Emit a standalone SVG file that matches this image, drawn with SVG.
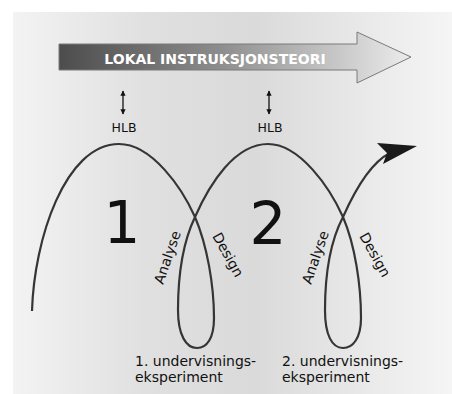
<svg xmlns="http://www.w3.org/2000/svg" width="452" height="394" viewBox="0 0 452 394">
<defs>
<linearGradient id="bg" x1="0" y1="0" x2="1" y2="0">
<stop offset="0" stop-color="#f3f3f3"/>
<stop offset="0.3" stop-color="#e0e0e0"/>
<stop offset="0.55" stop-color="#dadada"/>
<stop offset="1" stop-color="#f5f5f5"/>
</linearGradient>
<linearGradient id="band" gradientUnits="userSpaceOnUse" x1="59" y1="0" x2="411" y2="0">
<stop offset="0" stop-color="#4c4c4c"/>
<stop offset="0.45" stop-color="#8c8c8c"/>
<stop offset="1" stop-color="#ececec"/>
</linearGradient>
<marker id="ah" viewBox="0 0 10 10" refX="9" refY="5" markerWidth="4" markerHeight="4" orient="auto-start-reverse">
<path d="M0,0 L10,5 L0,10 Z" fill="#111"/>
</marker>
</defs>
<style>
.t{font-family:"DejaVu Sans","Liberation Sans",sans-serif;fill:#111}
.curve{fill:none;stroke:#353535;stroke-width:2.2;stroke-linejoin:round}
.hlb{stroke:#111;stroke-width:1.3}
</style>
<rect x="13" y="12" width="439" height="382" fill="url(#bg)"/>
<g id="banner">
<path d="M59,44 H357 V32 L411,57 L357,83 V70 H59 Z" fill="url(#band)" stroke="#7a7a7a" stroke-width="1"/>
<text class="t" x="215" y="63.5" text-anchor="middle" font-size="14" font-weight="bold" style="fill:#fff">LOKAL INSTRUKSJONSTEORI</text>
</g>
<g id="hlb1">
<line class="hlb" x1="123" y1="91" x2="123" y2="114" marker-start="url(#ah)" marker-end="url(#ah)"/>
<text class="t" x="124" y="132" text-anchor="middle" font-size="12.5">HLB</text>
</g>
<g id="hlb2">
<line class="hlb" x1="269" y1="91" x2="269" y2="114" marker-start="url(#ah)" marker-end="url(#ah)"/>
<text class="t" x="270" y="132" text-anchor="middle" font-size="12.5">HLB</text>
</g>
<g id="connectors">
<path class="curve" d="M32,311 C34,240 65,144 119,144 C152,144 182,188 195,217 C207,245 214,285 214,318 C214,338 207,348 197,348 C186,348 178,335 178,310 C178,272 184,240 195,217 C210,183 235,144 268,144 C300,144 330,188 343,217 C355,245 361,285 361,318 C361,338 353,348 343,348 C332,348 325,335 325,310 C325,272 331,240 343,217 C355,190 370,163 390,153"/>
<path d="M417,146 L377,143 L387,153 L383,164 Z" fill="#1a1a1a"/>
</g>
<g id="cycle1">
<text class="t" x="122" y="243" text-anchor="middle" font-size="58">1</text>
<text class="t" font-size="14" transform="translate(163,285) rotate(-71)">Analyse</text>
<text class="t" font-size="14" transform="translate(212,236) rotate(61)">Design</text>
<text class="t" x="135" y="366" font-size="14">1. undervisnings-</text>
<text class="t" x="135" y="382" font-size="14">eksperiment</text>
</g>
<g id="cycle2">
<text class="t" x="268" y="244" text-anchor="middle" font-size="58">2</text>
<text class="t" font-size="14" transform="translate(311,285) rotate(-71)">Analyse</text>
<text class="t" font-size="14" transform="translate(359,236) rotate(61)">Design</text>
<text class="t" x="282" y="366" font-size="14">2. undervisnings-</text>
<text class="t" x="282" y="382" font-size="14">eksperiment</text>
</g>
</svg>
